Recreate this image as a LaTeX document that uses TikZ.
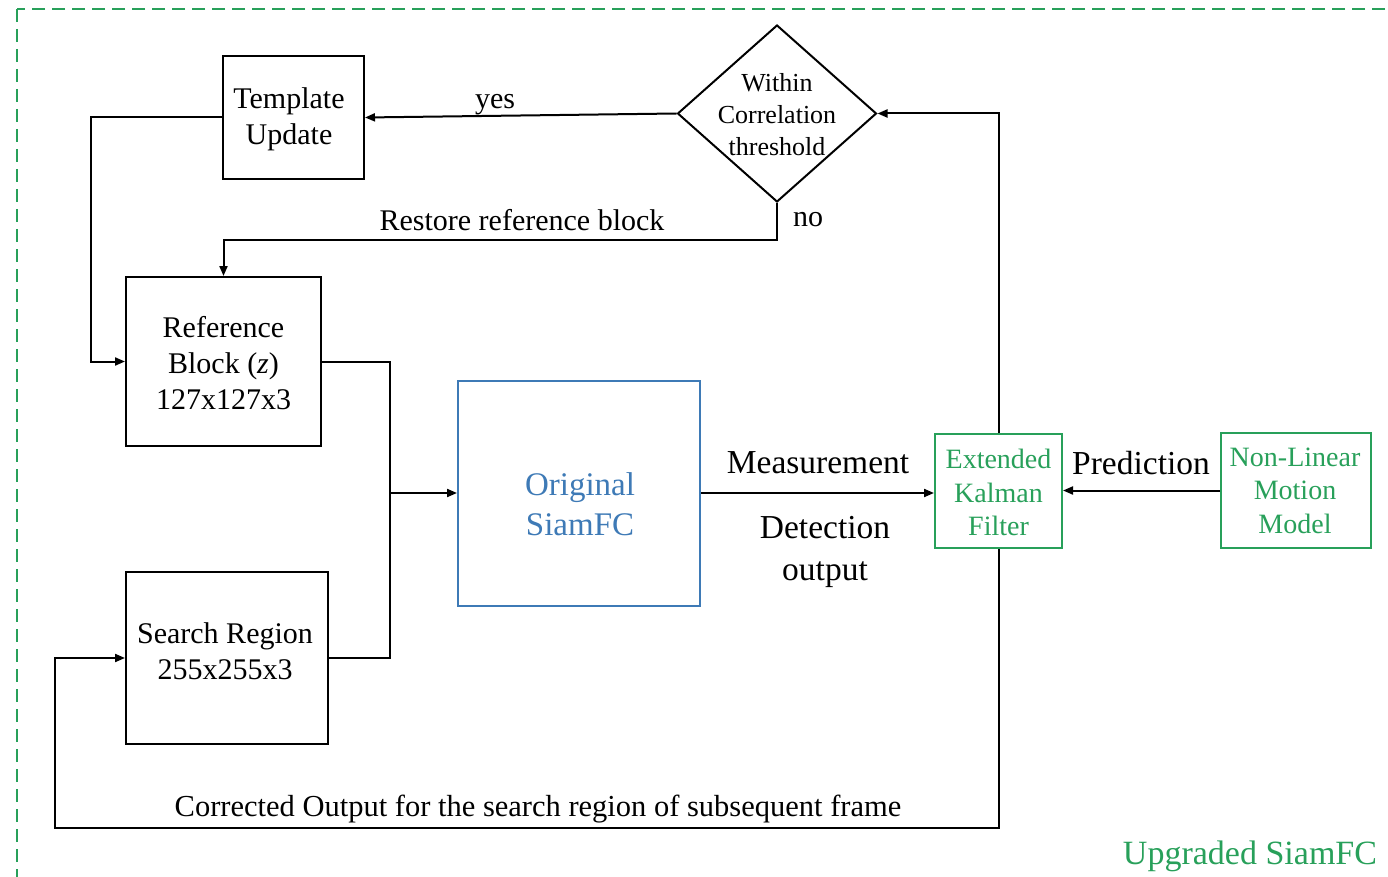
\documentclass[tikz,border=0pt]{standalone}
\usepackage{fontspec}
\setmainfont{Liberation Serif}
\usetikzlibrary{shapes.geometric,arrows.meta,calc}
\definecolor{upgreen}{RGB}{40,160,90}
\definecolor{sblue}{RGB}{62,122,182}
\begin{document}
\begin{tikzpicture}[x=1pt,y=-1pt,
  blk/.style={draw, line width=2pt, inner sep=0pt, rectangle},
  txt/.style={align=center, inner sep=0pt, font=\fontsize{30}{36}\selectfont},
  wire/.style={line width=2pt},
  arr/.style={wire, -{Triangle[length=10pt,width=8pt]}},
]
\useasboundingbox (0,0) rectangle (1388,877);

% outer frame of the upgraded tracker
\draw[upgreen, line width=2.2pt, dash pattern=on 13pt off 7pt] (17,9) rectangle (1420,900);

% blocks
\node[blk, minimum width=141pt, minimum height=123pt] (tmpl) at (293.5,117.5) {};
\node[txt] at (289,119) {Template\\Update};

\node[draw, diamond, line width=2pt, inner sep=0pt, minimum width=199pt, minimum height=177pt] (dec) at (777,113.5) {};
\node[txt, font=\fontsize{26}{32}\selectfont] at (777,115) {Within\\Correlation\\threshold};

\node[blk, minimum width=195pt, minimum height=169pt] (ref) at (223.5,361.5) {};
\node[txt] at (223.5,363) {Reference\\Block (\textit{z})\\127x127x3};

\node[blk, minimum width=202pt, minimum height=172pt] (search) at (227,658) {};
\node[txt] at (225,651) {Search Region\\255x255x3};

\node[blk, draw=sblue, minimum width=242pt, minimum height=225pt] (siam) at (579,493) {};
\node[txt, text=sblue, font=\fontsize{33}{40}\selectfont] at (580,504) {Original\\SiamFC};

\node[blk, draw=upgreen, minimum width=127pt, minimum height=114pt] (ekf) at (998.5,491) {};
\node[txt, text=upgreen, font=\fontsize{28}{33.5}\selectfont] at (998.5,492.5) {Extended\\Kalman\\Filter};

\node[blk, draw=upgreen, minimum width=150pt, minimum height=115pt] (nlmm) at (1296,490.5) {};
\node[txt, text=upgreen, font=\fontsize{28}{33.5}\selectfont] at (1295,490.5) {Non-Linear\\Motion\\Model};

% connectors
\coordinate (join) at (390,493);
\draw[arr] (dec.west) -- (tmpl.east);
\draw[arr] (tmpl.west) -- ++(-131,0) |- (ref.west);
\draw[arr] (dec.south) -- ++(0,37) -| (ref.north);
\draw[wire] (ref.east) -| (join);
\draw[wire] (search.east) -| (join);
\draw[arr] (join) -- (siam.west);
\draw[arr] (siam.east) -- (siam.east -| ekf.west);
\draw[arr] (nlmm.west) -- (nlmm.west -| ekf.east);
\draw[arr] (ekf.north) |- (dec.east);
\draw[arr] (ekf.south) -- (998.5,828) -| (55,658) -- (search.west);

% labels
\node[txt] at (495,105) {yes};
\node[txt] at (808,220) {no};
\node[txt] at (522,220) {Restore reference block};
\node[txt, font=\fontsize{33.5}{42}\selectfont] at (818,463) {Measurement};
\node[txt, font=\fontsize{33.5}{42}\selectfont] at (825,552) {Detection\\output};
\node[txt, font=\fontsize{33.5}{42}\selectfont] at (1141,463) {Prediction};
\node[txt, font=\fontsize{30.5}{36}\selectfont] at (538,809) {Corrected Output for the search region of subsequent frame};
\node[txt, text=upgreen, font=\fontsize{34}{40}\selectfont] at (1250,856) {Upgraded SiamFC};
\end{tikzpicture}
\end{document}
